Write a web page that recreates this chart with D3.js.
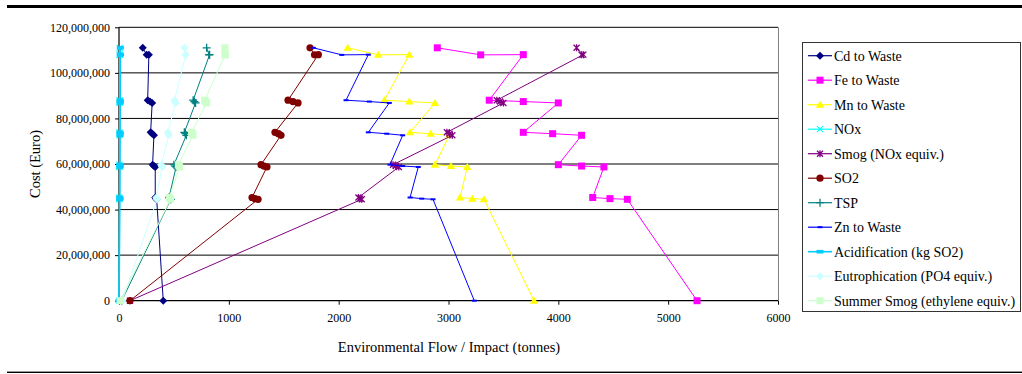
<!DOCTYPE html>
<html>
<head>
<meta charset="utf-8">
<script src="https://cdn.jsdelivr.net/npm/d3@7/dist/d3.min.js"></script>
<style>
  html, body { margin: 0; padding: 0; background: #fff; }
  svg { display: block; }
  text { font-family: "Liberation Serif", "Times New Roman", serif; fill: #000; }
</style>
</head>
<body>
<svg id="chart" width="1022" height="374"></svg>
<script>
// Cost of each scenario (million Euro), shared by every series, in line order
const costMillions = [111.0, 107.9, 108.0, 88.0, 87.4, 86.8, 73.9, 73.3, 72.6, 59.7, 59.1, 58.7, 45.3, 44.8, 44.5, 0];

// Environmental flow / impact (tonnes) per scenario
const cdToWaste      = [216, 252, 272, 261, 282, 302, 288, 303, 318, 306, 318, 330, 330, 337, 343, 403];
const feToWaste      = [2898, 3293, 3681, 3371, 3681, 4000, 3681, 3948, 4212, 4000, 4212, 4415, 4313, 4470, 4628, 5263];
const mnToWaste      = [2082, 2361, 2643, 2416, 2643, 2877, 2650, 2838, 3007, 2877, 3023, 3171, 3105, 3217, 3323, 3779];
const nox            = [6, 6, 6, 5, 5, 5, 4, 4, 4, 4, 4, 4, 3, 3, 3, 0];
const smogNox        = [4166, 4212, 4228, 3440, 3470, 3500, 2985, 3010, 3035, 2495, 2520, 2548, 2180, 2195, 2210, 100];
const so2            = [1739, 1780, 1815, 1539, 1584, 1630, 1420, 1452, 1475, 1293, 1320, 1347, 1211, 1238, 1266, 100];
const tsp            = [798, 819, 825, 675, 686, 697, 595, 604, 613, 500, 510, 520, 455, 464, 472, 25];
const znToWaste      = [1769, 2028, 2270, 2067, 2279, 2461, 2270, 2437, 2583, 2467, 2583, 2725, 2650, 2756, 2859, 3235];
const acidification  = [12, 12, 12, 11, 11, 11, 10, 10, 10, 9, 9, 9, 8, 8, 8, 0];
const eutrophication = [595, 604, 608, 505, 510, 515, 445, 449, 453, 385, 389, 393, 340, 343, 347, 30];
const summerSmog     = [965, 965, 968, 780, 789, 798, 660, 667, 674, 540, 546, 552, 458, 464, 470, 10];

const seriesNames = ["Cd to Waste", "Fe to Waste", "Mn to Waste", "NOx", "Smog (NOx equiv.)", "SO2",
  "TSP", "Zn to Waste", "Acidification (kg SO2)", "Eutrophication (PO4 equiv.)", "Summer Smog (ethylene equiv.)"];
const seriesValues = [cdToWaste, feToWaste, mnToWaste, nox, smogNox, so2, tsp, znToWaste, acidification, eutrophication, summerSmog];

const xTicks = [0, 1000, 2000, 3000, 4000, 5000, 6000];
const yTicks = [0, 20e6, 40e6, 60e6, 80e6, 100e6, 120e6];

// Line colour and marker shape of each series
const styles = [
  { color: "#000080", marker: "diamond" },
  { color: "#FF00FF", marker: "square" },
  { color: "#FFFF00", marker: "triangle" },
  { color: "#00FFFF", marker: "cross" },
  { color: "#800080", marker: "star" },
  { color: "#800000", marker: "circle" },
  { color: "#008080", marker: "plus" },
  { color: "#0000FF", marker: "dash" },
  { color: "#00CCFF", marker: "bar", width: 1.6 },
  { color: "#CCFFFF", marker: "diamond" },
  { color: "#CCFFCC", marker: "square" }
];

const series = seriesNames.map((name, i) => ({
  name,
  style: styles[i],
  points: seriesValues[i].map((v, j) => ({ x: v, y: costMillions[j] * 1e6 }))
}));

const svg = d3.select("#chart");

const plot = { left: 119, right: 778, top: 27.3, bottom: 300.7 };
const x = d3.scaleLinear().domain([0, 6000]).range([plot.left, plot.right]);
const y = d3.scaleLinear().domain([0, 120e6]).range([plot.bottom, plot.top]);

// Page rules above and below the figure
svg.append("rect").attr("x", 7).attr("y", 5).attr("width", 1015).attr("height", 3).attr("fill", "#000");
svg.append("rect").attr("x", 7).attr("y", 371.6).attr("width", 1015).attr("height", 1.4).attr("fill", "#000");

// Horizontal gridlines
svg.append("g").selectAll("line").data(yTicks.filter(t => t > 0)).join("line")
  .attr("x1", plot.left).attr("x2", plot.right)
  .attr("y1", d => y(d)).attr("y2", d => y(d))
  .attr("stroke", "#000").attr("stroke-width", 1);

// Plot area right edge
svg.append("line").attr("x1", plot.right + 0.5).attr("x2", plot.right + 0.5)
  .attr("y1", plot.top).attr("y2", plot.bottom)
  .attr("stroke", "#808080").attr("stroke-width", 1);

// Axes
const yAxis = d3.axisLeft(y).tickValues(yTicks).tickFormat(d3.format(",")).tickSize(4).tickPadding(5);
const gy = svg.append("g").attr("transform", `translate(${plot.left},0)`).call(yAxis);
const xAxis = d3.axisBottom(x).tickValues(xTicks).tickFormat(d3.format("d")).tickSize(4).tickPadding(9);
const gx = svg.append("g").attr("transform", `translate(0,${plot.bottom})`).call(xAxis);
[gx, gy].forEach(g => {
  g.select(".domain").attr("stroke", "#000").attr("stroke-width", 1.2);
  g.selectAll(".tick line").attr("stroke", "#000");
  g.selectAll(".tick text").style("font-family", '"Liberation Serif", serif').style("font-size", "12px").attr("fill", "#000");
});
gx.select(".domain").attr("d", `M${plot.left},0H${plot.right}`);
gy.select(".domain").attr("d", `M0,${plot.bottom}V${plot.top}`);

// Axis titles
svg.append("text").attr("x", 449).attr("y", 352).attr("text-anchor", "middle")
  .style("font-size", "14.5px").text("Environmental Flow / Impact (tonnes)");
svg.append("text").attr("transform", "translate(40,164) rotate(-90)").attr("text-anchor", "middle")
  .style("font-size", "14.5px").text("Cost (Euro)");

// Marker drawing
function drawMarker(g, type, color, cx, cy) {
  switch (type) {
    case "diamond":
      g.append("path").attr("d", `M${cx},${cy - 4}L${cx + 4},${cy}L${cx},${cy + 4}L${cx - 4},${cy}Z`).attr("fill", color);
      break;
    case "square":
      g.append("rect").attr("x", cx - 3.5).attr("y", cy - 3.5).attr("width", 7).attr("height", 7).attr("fill", color);
      break;
    case "triangle":
      g.append("path").attr("d", `M${cx},${cy - 4}L${cx + 4.2},${cy + 3}L${cx - 4.2},${cy + 3}Z`).attr("fill", color);
      break;
    case "circle":
      g.append("circle").attr("cx", cx).attr("cy", cy).attr("r", 3.6).attr("fill", color);
      break;
    case "cross":
      g.append("path").attr("d", `M${cx - 3},${cy - 3}L${cx + 3},${cy + 3}M${cx - 3},${cy + 3}L${cx + 3},${cy - 3}`)
        .attr("stroke", color).attr("stroke-width", 1.2).attr("fill", "none");
      break;
    case "star":
      g.append("path").attr("d", `M${cx - 3},${cy - 3}L${cx + 3},${cy + 3}M${cx - 3},${cy + 3}L${cx + 3},${cy - 3}M${cx},${cy - 3.5}L${cx},${cy + 3.5}`)
        .attr("stroke", color).attr("stroke-width", 1.3).attr("fill", "none");
      break;
    case "plus":
      g.append("path").attr("d", `M${cx - 4},${cy}L${cx + 4},${cy}M${cx},${cy - 4}L${cx},${cy + 4}`)
        .attr("stroke", color).attr("stroke-width", 1.3).attr("fill", "none");
      break;
    case "dash":
      g.append("rect").attr("x", cx - 2.5).attr("y", cy - 1).attr("width", 5).attr("height", 2).attr("fill", color);
      break;
    case "bar":
      g.append("rect").attr("x", cx - 3.5).attr("y", cy - 1.8).attr("width", 7).attr("height", 3.6).attr("fill", color);
      break;
  }
}

// Series lines and markers
const line = d3.line().x(d => x(d.x)).y(d => y(d.y));
series.forEach(s => {
  const g = svg.append("g");
  g.append("path").datum(s.points).attr("d", line)
    .attr("fill", "none").attr("stroke", s.style.color).attr("stroke-width", s.style.width || 1);
  s.points.forEach(p => drawMarker(g, s.style.marker, s.style.color, x(p.x), y(p.y)));
});

// Legend
const legend = svg.append("g");
legend.append("rect").attr("x", 802.5).attr("y", 42.5).attr("width", 218).attr("height", 269)
  .attr("fill", "#fff").attr("stroke", "#333").attr("stroke-width", 1);
series.forEach((s, i) => {
  const cy = 55.7 + i * 24.5;
  const g = legend.append("g");
  g.append("line").attr("x1", 808).attr("x2", 832).attr("y1", cy).attr("y2", cy)
    .attr("stroke", s.style.color).attr("stroke-width", s.style.width || 1.2);
  drawMarker(g, s.style.marker, s.style.color, 820, cy);
  g.append("text").attr("x", 834).attr("y", cy + 5).style("font-size", "14px").text(s.name);
});
</script>
</body>
</html>
